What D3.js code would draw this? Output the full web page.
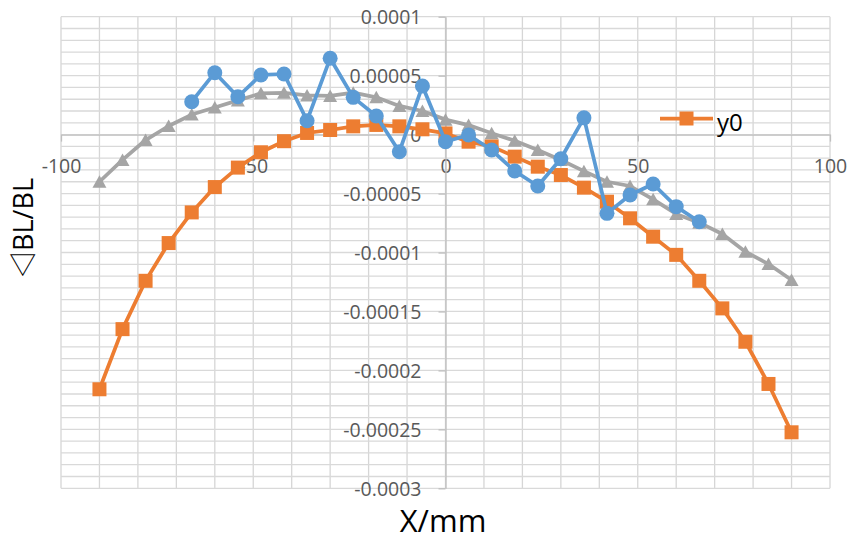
<!DOCTYPE html>
<html>
<head>
<meta charset="utf-8">
<script src="https://cdn.jsdelivr.net/npm/d3@7"></script>
<style>
  body { margin: 0; background: #fff; }
  svg { display: block; font-family: "Open Sans", "Liberation Sans", sans-serif; }
</style>
</head>
<body>
<div id="chart"></div>
<script>
// data
const xOrange = [-90,-84,-78,-72,-66,-60,-54,-48,-42,-36,-30,-24,-18,-12,-6,0,6,12,18,24,30,36,42,48,54,60,66,72,78,84,90];
const yOrange = [-0.000216,-0.000165,-0.000124,-0.000092,-0.000066,-0.0000445,-0.000028,-0.000015,-0.0000056,0.0000014,
  0.0000039,0.000007,0.0000082,0.000007,0.0000045,0.000001,-0.000006,-0.00001,-0.0000187,-0.0000272,
  -0.0000343,-0.000045,-0.0000569,-0.000071,-0.0000866,-0.000102,-0.000124,-0.0001474,-0.0001757,-0.0002115,-0.0002525];

const xGrey = [-90,-84,-78,-72,-66,-60,-54,-48,-42,-36,-30,-24,-18,-12,-6,0,6,12,18,24,30,36,42,48,54,60,66,72,78,84,90];
const yGrey = [-0.00004,-0.0000215,-0.0000046,0.0000073,0.000017,0.000023,0.000029,0.000035,0.0000354,0.0000332,
  0.0000328,0.0000356,0.0000316,0.0000243,0.00002,0.0000127,0.0000081,0.0000011,-0.0000052,-0.0000131,
  -0.0000215,-0.000031,-0.00004,-0.0000436,-0.0000549,-0.0000673,-0.0000747,-0.0000843,-0.0000993,-0.0001098,-0.0001233];

const xBlue = [-66,-60,-54,-48,-42,-36,-30,-24,-18,-12,-6,0,6,12,18,24,30,36,42,48,54,60,66];
const yBlue = [0.0000279,0.0000525,0.0000321,0.0000506,0.0000514,0.0000118,0.0000647,0.0000316,0.0000158,-0.0000145,
  0.0000412,-0.000006,-0.0000003,-0.0000131,-0.0000309,-0.0000436,-0.0000205,0.0000142,-0.0000668,-0.0000512,
  -0.0000419,-0.0000611,-0.0000739];

const xTicks = [-100, -50, 0, 50, 100];
const yTicks = [0.0001, 0.00005, 0, -0.00005, -0.0001, -0.00015, -0.0002, -0.00025, -0.0003];
const legendName = "y0";

const W = 847, H = 541;

const svg = d3.select("#chart")
  .append("svg")
    .attr("width", W)
    .attr("height", H);

const x = d3.scaleLinear().domain([-100, 100]).range([61, 830]);
const y = d3.scaleLinear().domain([-0.0003, 0.0001]).range([488.3, 16.7]);

// gridlines (minor every 10 / 0.00001)
const grid = svg.append("g");
grid.selectAll("line.v")
  .data(d3.range(-100, 101, 10))
  .enter().append("line")
    .attr("x1", d => x(d)).attr("x2", d => x(d))
    .attr("y1", y(0.0001)).attr("y2", y(-0.0003))
    .attr("stroke", "#d6d6d6").attr("stroke-width", 1.3);
grid.selectAll("line.h")
  .data(d3.range(-30, 11, 1))
  .enter().append("line")
    .attr("x1", x(-100)).attr("x2", x(100))
    .attr("y1", d => y(d / 100000)).attr("y2", d => y(d / 100000))
    .attr("stroke", "#d9d9d9").attr("stroke-width", 1.3);

// axes crossing at 0
const xAxis = svg.append("g")
  .attr("transform", `translate(0,${y(0)})`)
  .call(d3.axisBottom(x).tickValues(xTicks).tickSize(7).tickSizeOuter(0).tickFormat(d => d));
const yAxis = svg.append("g")
  .attr("transform", `translate(${x(0)},0)`)
  .call(d3.axisLeft(y).tickValues(yTicks).tickSize(7).tickSizeOuter(0).tickFormat(d => String(d)));

[xAxis, yAxis].forEach(a => {
  a.select(".domain").attr("stroke", "#bfbfbf").attr("stroke-width", 1.3);
  a.selectAll(".tick line").attr("stroke", "#bfbfbf").attr("stroke-width", 1.3);
  a.selectAll(".tick text")
    .attr("fill", "#595959")
    .style("font-size", "19.5px")
    .style("font-family", "'Open Sans', sans-serif");
});
xAxis.selectAll(".tick text").attr("y", 38.7).attr("dy", null);
yAxis.selectAll(".tick text").attr("x", -24).attr("dy", "0.35em");

// series
const line = d3.line().x(d => x(d[0])).y(d => y(d[1]));

function drawSeries(xs, ys, color, shape) {
  const pts = xs.map((v, i) => [v, ys[i]]);
  const g = svg.append("g");
  g.append("path")
    .datum(pts)
    .attr("d", line)
    .attr("fill", "none")
    .attr("stroke", color)
    .attr("stroke-width", 3.75)
    .attr("stroke-linejoin", "round");
  const m = g.selectAll(".m").data(pts).enter();
  if (shape === "circle") {
    m.append("circle")
      .attr("cx", d => x(d[0])).attr("cy", d => y(d[1]))
      .attr("r", 7.5).attr("fill", color);
  } else if (shape === "square") {
    m.append("rect")
      .attr("x", d => x(d[0]) - 7).attr("y", d => y(d[1]) - 7)
      .attr("width", 14).attr("height", 14).attr("fill", color);
  } else {
    m.append("path")
      .attr("transform", d => `translate(${x(d[0])},${y(d[1])})`)
      .attr("d", "M0,-6.5L7,6L-7,6Z")
      .attr("fill", color);
  }
}

drawSeries(xOrange, yOrange, "#ed7d31", "square");
drawSeries(xGrey, yGrey, "#a5a5a5", "triangle");
drawSeries(xBlue, yBlue, "#5b9bd5", "circle");

// legend
const lg = svg.append("g").attr("transform", "translate(660,118.5)");
lg.append("line").attr("x1", 0).attr("x2", 53).attr("stroke", "#ed7d31").attr("stroke-width", 3.75);
lg.append("rect").attr("x", 19.5).attr("y", -7).attr("width", 14).attr("height", 14).attr("fill", "#ed7d31");
lg.append("text").attr("x", 57).attr("y", 12.5)
  .style("font-size", "24px").attr("fill", "#000").text(legendName);

// axis titles
svg.append("text")
  .attr("x", 443).attr("y", 532)
  .attr("text-anchor", "middle")
  .style("font-size", "31px")
  .attr("fill", "#000")
  .text("X/mm");

const yt = svg.append("text")
  .attr("transform", "translate(33,228) rotate(-90)")
  .attr("text-anchor", "middle")
  .style("font-size", "27px")
  .attr("fill", "#000");
yt.append("tspan").style("font-family", "'Noto Sans CJK SC', 'DejaVu Sans', sans-serif").text("◁");
yt.append("tspan").text("BL/BL");
</script>
</body>
</html>
